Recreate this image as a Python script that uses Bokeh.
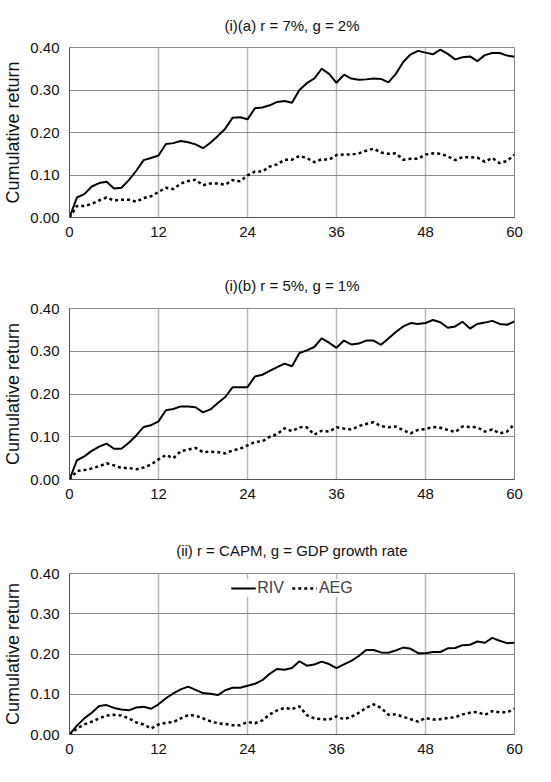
from bokeh.plotting import figure
from bokeh.layouts import column
from bokeh.models import Range1d, FixedTicker, NumeralTickFormatter, Legend, LegendItem
from bokeh.embed import file_html
from bokeh.resources import INLINE

months = list(range(0, 61))
x_ticks = [0, 12, 24, 36, 48, 60]
y_ticks = [0.0, 0.1, 0.2, 0.3, 0.4]

titles = ["(i)(a) r = 7%, g = 2%", "(i)(b) r = 5%, g = 1%", "(ii) r = CAPM, g = GDP growth rate"]

riv_a = [0, 0.047, 0.055, 0.073, 0.081, 0.084, 0.068, 0.070, 0.088, 0.110, 0.135, 0.140, 0.146,
         0.173, 0.175, 0.180, 0.177, 0.172, 0.163, 0.176, 0.192, 0.209, 0.235, 0.236, 0.231,
         0.257, 0.259, 0.264, 0.272, 0.274, 0.270, 0.300, 0.316, 0.327, 0.350, 0.338, 0.317,
         0.336, 0.327, 0.324, 0.325, 0.327, 0.326, 0.318, 0.338, 0.366, 0.384, 0.392, 0.388,
         0.384, 0.395, 0.385, 0.372, 0.377, 0.379, 0.368, 0.382, 0.387, 0.387, 0.381, 0.378]
aeg_a = [0, 0.027, 0.027, 0.032, 0.040, 0.047, 0.040, 0.042, 0.042, 0.037, 0.046, 0.050, 0.060,
         0.070, 0.067, 0.080, 0.086, 0.089, 0.076, 0.080, 0.080, 0.077, 0.088, 0.085, 0.099,
         0.108, 0.108, 0.120, 0.125, 0.136, 0.136, 0.145, 0.140, 0.130, 0.137, 0.136, 0.147,
         0.148, 0.148, 0.151, 0.157, 0.162, 0.153, 0.150, 0.151, 0.136, 0.138, 0.138, 0.148,
         0.151, 0.150, 0.144, 0.135, 0.142, 0.142, 0.141, 0.131, 0.140, 0.128, 0.133, 0.148]

riv_b = [0, 0.045, 0.054, 0.067, 0.077, 0.084, 0.072, 0.072, 0.086, 0.103, 0.123, 0.127, 0.136,
         0.162, 0.165, 0.171, 0.171, 0.169, 0.157, 0.164, 0.179, 0.193, 0.216, 0.216, 0.216,
         0.241, 0.245, 0.254, 0.263, 0.271, 0.265, 0.296, 0.302, 0.310, 0.330, 0.320, 0.308,
         0.325, 0.316, 0.318, 0.325, 0.325, 0.315, 0.330, 0.345, 0.358, 0.366, 0.364, 0.366,
         0.373, 0.368, 0.355, 0.358, 0.369, 0.353, 0.364, 0.367, 0.371, 0.364, 0.362, 0.370]
aeg_b = [0, 0.020, 0.022, 0.026, 0.031, 0.038, 0.033, 0.027, 0.027, 0.024, 0.028, 0.035, 0.047,
         0.057, 0.050, 0.066, 0.070, 0.074, 0.064, 0.065, 0.064, 0.061, 0.068, 0.072, 0.080,
         0.088, 0.089, 0.100, 0.106, 0.120, 0.113, 0.122, 0.122, 0.105, 0.114, 0.112, 0.122,
         0.119, 0.117, 0.125, 0.130, 0.134, 0.125, 0.122, 0.124, 0.115, 0.108, 0.116, 0.118,
         0.123, 0.121, 0.116, 0.111, 0.124, 0.123, 0.122, 0.112, 0.117, 0.108, 0.112, 0.130]

riv_c = [0, 0.022, 0.040, 0.054, 0.071, 0.073, 0.066, 0.062, 0.060, 0.067, 0.069, 0.064, 0.075,
         0.090, 0.102, 0.112, 0.119, 0.111, 0.103, 0.101, 0.098, 0.110, 0.116, 0.116, 0.121,
         0.126, 0.135, 0.151, 0.163, 0.161, 0.165, 0.182, 0.171, 0.174, 0.181, 0.175, 0.165,
         0.174, 0.183, 0.195, 0.210, 0.210, 0.204, 0.203, 0.209, 0.216, 0.213, 0.202, 0.202,
         0.205, 0.205, 0.214, 0.215, 0.222, 0.223, 0.231, 0.228, 0.240, 0.233, 0.227, 0.228]
aeg_c = [0, 0.015, 0.025, 0.032, 0.040, 0.047, 0.049, 0.047, 0.040, 0.030, 0.025, 0.015, 0.025,
         0.029, 0.031, 0.040, 0.048, 0.047, 0.040, 0.033, 0.028, 0.026, 0.023, 0.023, 0.031,
         0.028, 0.035, 0.050, 0.060, 0.066, 0.063, 0.070, 0.048, 0.040, 0.038, 0.037, 0.045,
         0.038, 0.044, 0.054, 0.066, 0.075, 0.066, 0.049, 0.050, 0.044, 0.038, 0.032, 0.041,
         0.037, 0.038, 0.041, 0.043, 0.050, 0.054, 0.056, 0.049, 0.058, 0.055, 0.055, 0.064]

FONT = "Liberation Sans"


def make_panel(title, riv, aeg, frame_h, top, bottom, standoff, legend=False):
    p = figure(frame_width=445, frame_height=frame_h, output_backend="svg", toolbar_location=None,
               title=title, x_range=Range1d(0, 60), y_range=Range1d(0, 0.40),
               min_border_left=68, min_border_right=32, min_border_top=top,
               min_border_bottom=bottom)
    p.title.align = "center"
    p.title.text_font = FONT
    p.title.text_font_size = "15px"
    p.title.text_font_style = "normal"
    p.title.text_color = "#111111"
    p.title.standoff = standoff

    p.xaxis.ticker = FixedTicker(ticks=x_ticks)
    p.yaxis.ticker = FixedTicker(ticks=y_ticks)
    p.yaxis.formatter = NumeralTickFormatter(format="0.00")
    for ax in (p.xaxis[0], p.yaxis[0]):
        ax.major_tick_line_color = None
        ax.minor_tick_line_color = None
        ax.axis_line_color = "#555555"
        ax.major_label_text_font = FONT
        ax.major_label_text_font_size = "15px"
        ax.major_label_text_color = "#111111"
        ax.major_label_standoff = 4
    p.xaxis.major_label_standoff = 3
    p.yaxis.axis_label = "Cumulative return"
    p.yaxis.axis_label_text_font = FONT
    p.yaxis.axis_label_text_font_size = "18px"
    p.yaxis.axis_label_text_font_style = "normal"
    p.yaxis.axis_label_text_color = "#111111"
    p.yaxis.axis_label_standoff = 4

    p.xgrid.grid_line_color = "#b8b8b8"
    p.xgrid.grid_line_width = 1.5
    p.ygrid.grid_line_color = "#8a8a8a"
    p.outline_line_color = "#8a8a8a"
    p.background_fill_color = "white"
    p.border_fill_color = "white"

    r1 = p.line(months, riv, line_color="black", line_width=2)
    r2 = p.line(months, aeg, line_color="black", line_width=2.5, line_dash="3 3")
    if legend:
        lg = Legend(items=[LegendItem(label="RIV", renderers=[r1]),
                           LegendItem(label="AEG", renderers=[r2])],
                    orientation="horizontal", location="top_center",
                    border_line_color=None, background_fill_color="white",
                    background_fill_alpha=1.0,
                    label_text_font=FONT, label_text_font_size="16px",
                    label_height=16, glyph_width=25, glyph_height=16,
                    label_standoff=2, spacing=8, padding=2, margin=6)
        p.add_layout(lg, "center")
    return p


p1 = make_panel(titles[0], riv_a, aeg_a, 170, 47, 43, 28)
p2 = make_panel(titles[1], riv_b, aeg_b, 171, 40, 46, 29)
p3 = make_panel(titles[2], riv_c, aeg_c, 161, 40, 40, 29, legend=True)

layout = column(p1, p2, p3, spacing=0)
open("out.html", "w").write(file_html(layout, INLINE))
